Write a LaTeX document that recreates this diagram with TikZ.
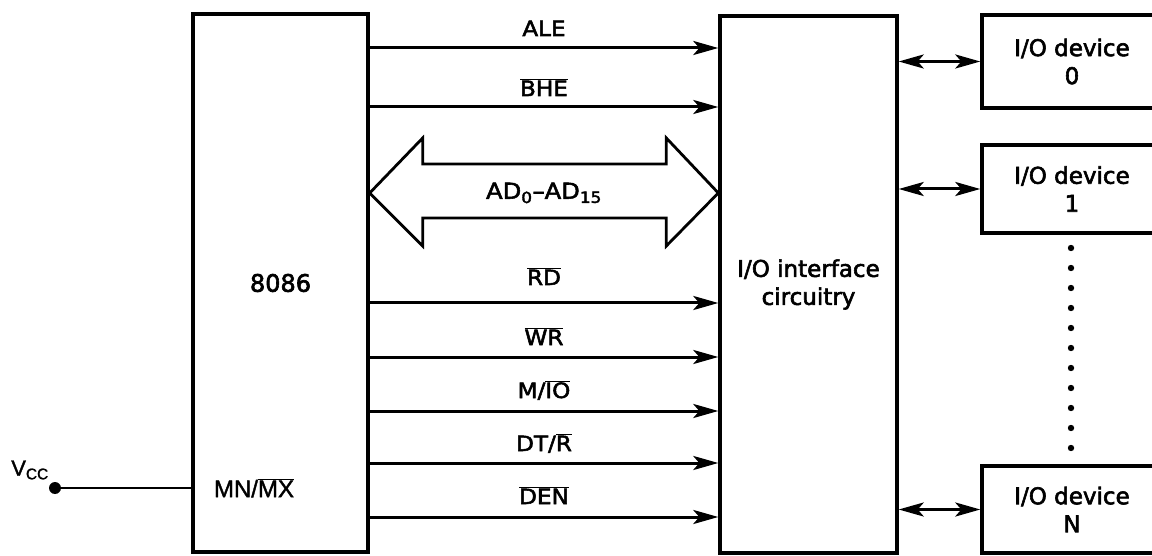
\documentclass[tikz,border=0pt]{standalone}
\usepackage{fontspec}
\setmainfont{DejaVu Sans}[FakeBold=2.5]
\newfontfamily\labfont{DejaVu Sans}[FakeBold=2.5, FakeStretch=1.1]
\setsansfont{Liberation Sans}[FakeBold=1.5]
\usetikzlibrary{arrows.meta,calc}
\newcommand{\barred}[1]{$\overline{\mbox{#1}}$}
\begin{document}
\begin{tikzpicture}[x=1pt,y=-1pt,
  box/.style={draw, line width=3.4pt, inner sep=0pt, align=center, font=\fontsize{23}{28}\selectfont},
  sig/.style={line width=3pt, -{Stealth[length=25pt,width=14pt,inset=6pt]}},
  bidir/.style={line width=3pt, {Stealth[length=25pt,width=14pt,inset=6pt]}-{Stealth[length=25pt,width=14pt,inset=6pt]}},
  lab/.style={font=\labfont\fontsize{21}{24}\selectfont, inner sep=0pt, anchor=base},
  bus/.style={line width=2.8pt, fill=white, line join=miter},
]
\useasboundingbox (0,0) rectangle (1152,556);

% blocks
\node[box, minimum width=175pt, minimum height=538pt, font=\fontsize{24}{28}\selectfont] (cpu) at (280.5,283) {8086};
\node[box, minimum width=177pt, minimum height=537pt] (iface) at (808.5,284.5) {I/O interface\\circuitry};
\node[box, minimum width=180pt, minimum height=93pt] (d0) at (1072,61.5) {I/O device\\0};
\node[box, minimum width=180pt, minimum height=88pt] (d1) at (1072,189) {I/O device\\1};
\node[box, minimum width=180pt, minimum height=87pt] (dn) at (1072,509.5) {I/O device\\N};

% signal rows
\coordinate (yALE) at (0,48);
\coordinate (yBHE) at (0,107);
\coordinate (ybus) at (0,193);
\coordinate (yRD) at (0,303);
\coordinate (yWR) at (0,357);
\coordinate (yMIO) at (0,411);
\coordinate (yDTR) at (0,463);
\coordinate (yDEN) at (0,517);

\draw[sig] (cpu.east |- yALE) -- node[lab, yshift=12pt] {ALE} (iface.west |- yALE);
\draw[sig] (cpu.east |- yBHE) -- node[lab, yshift=11pt] {\barred{BHE}} (iface.west |- yBHE);
\draw[sig] (cpu.east |- yRD) -- node[lab, yshift=18pt] {\barred{RD}} (iface.west |- yRD);
\draw[sig] (cpu.east |- yWR) -- node[lab, yshift=12pt] {\barred{WR}} (iface.west |- yWR);
\draw[sig] (cpu.east |- yMIO) -- node[lab, yshift=13pt] {M/\barred{IO}} (iface.west |- yMIO);
\draw[sig] (cpu.east |- yDTR) -- node[lab, yshift=12pt] {DT/\barred{R}} (iface.west |- yDTR);
\draw[sig] (cpu.east |- yDEN) -- node[lab, yshift=13pt] {\barred{DEN}} (iface.west |- yDEN);

% address/data bus
\coordinate (L) at (cpu.east |- ybus);
\coordinate (R) at (iface.west |- ybus);
\draw[bus] (L) -- ($(L)+(53,-55)$) -- ($(L)+(53,-29)$) -- ($(R)+(-52,-29)$) -- ($(R)+(-52,-55)$)
  -- (R) -- ($(R)+(-52,53)$) -- ($(R)+(-52,25)$) -- ($(L)+(53,25)$) -- ($(L)+(53,53)$) -- cycle;
\node[font=\labfont\fontsize{22}{26}\selectfont, inner sep=0pt] (adlab) at ($(L)!0.5!(R)$) {AD\textsubscript{0}–AD\textsubscript{15}};

% interface to devices
\draw[bidir] (iface.east |- d0.west) -- (d0.west);
\draw[bidir] (iface.east |- d1.west) -- (d1.west);
\draw[bidir] (iface.east |- dn.west) -- (dn.west);

% dots between devices
\foreach \k in {0,...,10} \fill (1071,248+20*\k) circle (3.2pt);

% Vcc and MN/MX
\coordinate (vcc) at (55,488);
\fill (vcc) circle (6pt);
\draw[line width=2.4pt] (vcc) -- (cpu.west |- vcc);
\node[font=\sffamily\fontsize{22}{26}\selectfont, inner sep=0pt] (vcclab) at (30,470) {V\textsubscript{CC}};
\node[font=\sffamily\fontsize{24}{28}\selectfont, inner sep=0pt] (mnmx) at (254,488) {MN/\barred{MX}};
\end{tikzpicture}
\end{document}
